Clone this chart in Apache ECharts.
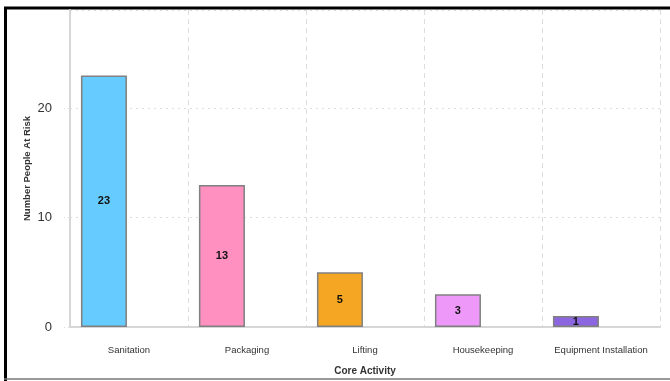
<!DOCTYPE html>
<html>
<head>
<meta charset="utf-8">
<script src="https://cdn.jsdelivr.net/npm/echarts@6/dist/echarts.min.js"></script>
<style>
html,body{margin:0;padding:0;background:#fff;}
#c{width:670px;height:381px;}
</style>
</head>
<body>
<div id="c"></div>
<script>
const categories = ['Sanitation', 'Packaging', 'Lifting', 'Housekeeping', 'Equipment Installation'];
const values = [23, 13, 5, 3, 1];
const barColors = ['#66CCFF', '#FF90C0', '#F5A623', '#EE99FA', '#8C66E0'];
const emptySeries = [null, null, null, null, null];

const chart = echarts.init(document.getElementById('c'));
chart.setOption({
  backgroundColor: '#fff',
  animation: false,
  grid: { left: 70, right: 10, top: 10, bottom: 51 },
  graphic: [
    { type: 'line', shape: { x1: 4, y1: 8, x2: 670, y2: 8 }, style: { stroke: '#000', lineWidth: 3 } },
    { type: 'line', shape: { x1: 5.5, y1: 7, x2: 5.5, y2: 381 }, style: { stroke: '#000', lineWidth: 3 } },
    { type: 'line', shape: { x1: 4, y1: 379, x2: 670, y2: 379 }, style: { stroke: '#777', lineWidth: 1.5 } }
  ],
  xAxis: {
    type: 'category',
    data: categories,
    name: 'Core Activity',
    nameLocation: 'middle',
    nameGap: 39,
    nameMoveOverlap: false,
    nameTextStyle: { fontFamily: 'Liberation Sans', fontSize: 10, fontWeight: 'bold', color: '#333' },
    axisLine: { show: true, lineStyle: { color: '#d6d6d6', width: 2 } },
    axisTick: { show: false },
    axisLabel: { interval: 0, fontFamily: 'Liberation Sans', fontSize: 9.5, color: '#333', margin: 18 },
    splitLine: { show: true, interval: 0, lineStyle: { color: '#dddddd', type: [5, 4], width: 1 } }
  },
  yAxis: {
    type: 'value',
    min: 0,
    max: 29,
    interval: 10,
    name: 'Number People At Risk',
    nameLocation: 'middle',
    nameGap: 38,
    nameMoveOverlap: false,
    nameRotate: 90,
    nameTextStyle: { fontFamily: 'Liberation Sans', fontSize: 9.5, fontWeight: 'bold', color: '#333' },
    axisLine: { show: true, lineStyle: { color: '#d6d6d6', width: 2 } },
    axisTick: { show: true, length: 6, lineStyle: { color: '#dddddd', type: [2, 3] } },
    axisLabel: { showMaxLabel: false, fontFamily: 'Liberation Sans', fontSize: 13, color: '#333', margin: 18 },
    splitLine: { show: true, lineStyle: { color: '#dddddd', type: [2, 4], width: 1 } }
  },
  series: [
    {
      type: 'bar',
      barWidth: 46,
      barGap: '9%',
      data: values.map((v, i) => ({ value: v, itemStyle: { color: barColors[i] } })),
      itemStyle: { borderColor: '#808080', borderWidth: 1.5 },
      label: { show: true, position: 'inside', fontFamily: 'Liberation Sans', fontSize: 11, fontWeight: 'bold', color: '#111' }
    },
    {
      type: 'bar',
      barWidth: 46,
      data: emptySeries
    }
  ]
});
</script>
</body>
</html>
